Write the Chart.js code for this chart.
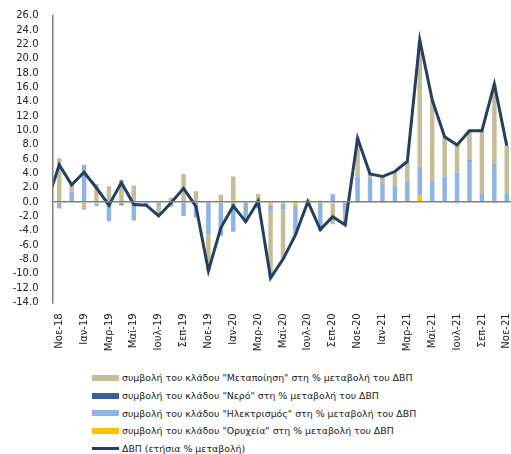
<!DOCTYPE html>
<html>
<head>
<meta charset="utf-8">
<script src="https://cdn.jsdelivr.net/npm/chart.js@4/dist/chart.umd.min.js"></script>
<style>
  html, body { margin: 0; padding: 0; overflow: hidden; background: #fff; width: 511px; height: 454px; }
  #wrap { position: absolute; left: 0; top: 0; width: 513px; height: 362px; }
  #legend { position: absolute; left: 92px; top: 369px; font-family: "DejaVu Sans", sans-serif; font-size: 9.4px; color: #222; }
  .row { height: 17.7px; display: flex; align-items: center; white-space: nowrap; }
  .sw { display: inline-block; width: 27px; height: 6px; margin-right: 3px; flex: none; }
  .ln { display: inline-block; width: 27px; height: 3px; margin-right: 3px; flex: none; }
</style>
</head>
<body>
<div id="wrap"><canvas id="c" width="513" height="362"></canvas></div>
<div id="legend"></div>
<script>
// Months (the first one sits just outside the visible axis range; only the GDP line reaches it)
const months = ["Οκτ-18",
  "Νοε-18","Δεκ-18","Ιαν-19","Φεβ-19","Μαρ-19","Απρ-19","Μαϊ-19","Ιουν-19","Ιουλ-19","Αυγ-19","Σεπ-19","Οκτ-19",
  "Νοε-19","Δεκ-19","Ιαν-20","Φεβ-20","Μαρ-20","Απρ-20","Μαϊ-20","Ιουν-20","Ιουλ-20","Αυγ-20","Σεπ-20","Οκτ-20",
  "Νοε-20","Δεκ-20","Ιαν-21","Φεβ-21","Μαρ-21","Απρ-21","Μαϊ-21","Ιουν-21","Ιουλ-21","Αυγ-21","Σεπ-21","Οκτ-21","Νοε-21"];

const mining = [null,
  -0.1,-0.15,-0.3,-0.2,-0.05,0,0,0,-0.15,-0.3,0,-0.1,
  -0.1,0,0.2,0,-0.1,-0.4,-0.2,-0.45,-0.05,0.2,-0.2,0,
  -0.05,-0.15,-0.05,-0.05,0,0.9,0.1,-0.1,-0.2,-0.1,0,0,0];
const electricity = [null,
  -0.8,1.45,5.2,-0.35,-2.65,-0.3,-2.6,-0.4,-0.45,-0.35,-1.95,-2.05,
  -4.4,-4.75,-4.15,-2.5,-0.8,-0.85,-0.9,-3.65,-0.2,-3.9,1.1,-1.45,
  3.55,3.3,2.5,2.35,3.0,4.05,2.85,3.55,4.1,5.65,1.1,5.4,1.1];
const water = [null,
  0,0,0,0,0,-0.15,0,0,0,0,0,0,
  0,0,0,0,0,0,0.1,0,0,0,0,0,
  0,0,0,0,0,0,0,0,0,0.15,0,-0.15,0];
const manufacturing = [null,
  6.1,1.1,-0.8,2.5,2.2,3.1,2.3,-0.05,-1.25,0.6,3.9,1.5,
  -5.1,1.0,3.35,-0.2,1.1,-9.4,-6.9,-0.5,0.3,-0.15,-2.9,-1.75,
  5.35,0.75,1.05,1.9,2.65,17.55,11.3,5.55,4.05,4.2,8.85,11.05,6.75];
const gdp = [-0.2,
  5.2,2.4,4.15,1.95,-0.45,2.7,-0.35,-0.45,-1.95,-0.1,1.9,-0.6,
  -9.6,-3.6,-0.55,-2.75,0.1,-10.6,-8.0,-4.6,0.05,-3.85,-2.05,-3.2,
  8.9,3.9,3.55,4.25,5.65,22.6,14.25,9.1,7.95,9.95,9.95,16.45,7.85];

const yTicks = {min: -14, max: 26, step: 2};

const names = {
  manufacturing: 'συμβολή του κλάδου "Μεταποίηση" στη % μεταβολή του ΔΒΠ',
  water: 'συμβολή του κλάδου "Νερό" στη % μεταβολή του ΔΒΠ',
  electricity: 'συμβολή του κλάδου "Ηλεκτρισμός" στη % μεταβολή του ΔΒΠ',
  mining: 'συμβολή του κλάδου "Ορυχεία" στη % μεταβολή του ΔΒΠ',
  gdp: 'ΔΒΠ (ετήσια % μεταβολή)'
};
const colors = {
  manufacturing: '#C4BD97', water: '#376092', electricity: '#8DB4E2', mining: '#FFC000', gdp: '#243F60'
};

Chart.defaults.font.family = '"DejaVu Sans", sans-serif';
Chart.defaults.font.size = 10;
Chart.defaults.color = '#222';

const barDs = (key, data) => ({
  type: 'bar', label: names[key], data: data, backgroundColor: colors[key],
  stack: 'sectors', order: 1, barPercentage: 0.36, categoryPercentage: 1.0, borderWidth: 0
});

new Chart(document.getElementById('c'), {
  type: 'bar',
  data: {
    labels: months,
    datasets: [
      { type: 'line', label: names.gdp, data: gdp, borderColor: colors.gdp, borderWidth: 3,
        pointRadius: 0, tension: 0, fill: false, stack: 'gdp', order: 0 },
      barDs('mining', mining),
      barDs('electricity', electricity),
      barDs('water', water),
      barDs('manufacturing', manufacturing)
    ]
  },
  options: {
    responsive: false,
    animation: false,
    devicePixelRatio: 1,
    layout: { padding: { left: 0, right: 0, top: 15.7, bottom: 0 } },
    plugins: { legend: { display: false }, tooltip: { enabled: false } },
    scales: {
      x: {
        type: 'category',
        min: 1, max: months.length - 1,
        offset: true,
        stacked: true,
        grid: { display: false, drawTicks: false },
        border: { display: false },
        ticks: {
          autoSkip: false, maxRotation: 90, minRotation: 90, padding: 11,
          callback: function (value) { return (value - 1) % 2 === 0 ? months[value] : ''; }
        },
        afterFit: function (scale) { scale.paddingLeft = 0; scale.paddingRight = 0; scale.height = 362 - 302.3; }
      },
      y: {
        stacked: true,
        min: yTicks.min, max: yTicks.max,
        ticks: { stepSize: yTicks.step, autoSkip: false, padding: 14.5, callback: v => v.toFixed(1) },
        grid: {
          drawTicks: false, z: 1,
          color: ctx => (ctx.tick && ctx.tick.value === 0) ? '#808080' : 'rgba(0,0,0,0)',
          lineWidth: 1.5
        },
        border: { display: true, color: '#808080', width: 1.5, z: 2 },
        afterFit: function (scale) { scale.width = 53; scale.paddingTop = 0; scale.paddingBottom = 0; }
      }
    }
  }
});

// Legend (same order as the reference)
const order = ['manufacturing', 'water', 'electricity', 'mining', 'gdp'];
const leg = document.getElementById('legend');
order.forEach(k => {
  const row = document.createElement('div');
  row.className = 'row';
  const sw = document.createElement('span');
  sw.className = k === 'gdp' ? 'ln' : 'sw';
  sw.style.background = colors[k];
  const tx = document.createElement('span');
  tx.textContent = names[k];
  row.appendChild(sw); row.appendChild(tx);
  leg.appendChild(row);
});
</script>
</body>
</html>
